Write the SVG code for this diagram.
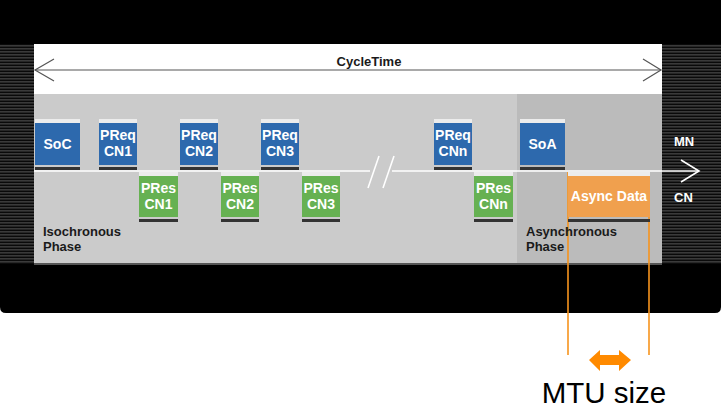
<svg xmlns="http://www.w3.org/2000/svg" width="721" height="412" viewBox="0 0 721 412">
  <style>
    .lbl{font-family:"Liberation Sans Narrow","Liberation Sans",Arial,sans-serif;font-weight:bold;font-size:14px;fill:#ffffff;text-anchor:middle}
    .dark{font-family:"Liberation Sans Narrow","Liberation Sans",Arial,sans-serif;font-weight:bold;font-size:13px;fill:#1a1a1a}
    .side{font-family:"Liberation Sans Narrow","Liberation Sans",Arial,sans-serif;font-weight:bold;font-size:13px;fill:#ffffff}
    .top{fill:#ececec}
    .bar{fill:#333333}
    .mn{fill:#2d69ad}
    .cn{fill:#66b152}
    .as{fill:#f0a04e}
    .wl{stroke:#ffffff;stroke-width:1.6;fill:none}
    .gl{stroke:#555555;stroke-width:1.2;fill:none}
    .ol{stroke:#f7941d;stroke-width:1.6;fill:none}
  </style>
  <defs>
    <pattern id="stripes" x="0" y="0" width="4" height="3" patternUnits="userSpaceOnUse">
      <rect width="4" height="3" fill="#0a0a0a"/>
      <rect width="4" height="1.6" fill="#3a3a3a"/>
    </pattern>
  </defs>

  <!-- background -->
  <rect width="721" height="412" fill="#ffffff"/>
  <path d="M0 0 H721 V307 Q721 313 715 313 H6 Q0 313 0 307 Z" fill="#000000"/>
  <rect x="0" y="44" width="34" height="220" fill="url(#stripes)"/>
  <rect x="662" y="44" width="59" height="220" fill="url(#stripes)"/>
  <rect x="34" y="44" width="628" height="50" fill="#ffffff"/>
  <rect x="34" y="94" width="483" height="170" fill="#cbcbcb"/>
  <rect x="517" y="94" width="145" height="170" fill="#bbbbbb"/>
  <rect x="34" y="263" width="628" height="2" fill="#555555"/>

  <!-- connectors -->
  <g id="connectors">
    <line class="gl" x1="35" y1="70" x2="661" y2="70"/>
    <polyline class="gl" points="54,59 35,70 54,81"/>
    <polyline class="gl" points="643,59 661,70 643,81"/>
    <line class="wl" x1="34" y1="171" x2="370" y2="171"/>
    <line class="wl" x1="392" y1="171" x2="699" y2="171"/>
    <polyline class="wl" points="681,160 699,171 681,182"/>
    <line class="wl" x1="368" y1="188" x2="379" y2="156"/>
    <line class="wl" x1="383" y1="188" x2="394" y2="156"/>
    <line class="ol" x1="568" y1="172" x2="568" y2="355"/>
    <line class="ol" x1="649" y1="172" x2="649" y2="355"/>
    <polygon fill="#ff8a00" points="589,360 600,350 600,355 619,355 619,350 631,360 619,371 619,365 600,365 600,371"/>
  </g>

  <g id="cycletime"><text class="dark" x="369" y="66" text-anchor="middle">CycleTime</text></g>

  <!-- MN frames -->
  <g id="soc"><rect class="top" x="35" y="119" width="45" height="4"/><rect class="mn" x="35" y="123" width="45" height="42"/><rect class="bar" x="35" y="167" width="45" height="3"/><text class="lbl" x="57.5" y="149">SoC</text></g>
  <g id="preq1"><rect class="top" x="99" y="119" width="38" height="4"/><rect class="mn" x="99" y="123" width="38" height="42"/><rect class="bar" x="99" y="167" width="38" height="3"/><text class="lbl" x="118" y="140">PReq</text><text class="lbl" x="118" y="156">CN1</text></g>
  <g id="preq2"><rect class="top" x="180" y="119" width="38" height="4"/><rect class="mn" x="180" y="123" width="38" height="42"/><rect class="bar" x="180" y="167" width="38" height="3"/><text class="lbl" x="199" y="140">PReq</text><text class="lbl" x="199" y="156">CN2</text></g>
  <g id="preq3"><rect class="top" x="261" y="119" width="38" height="4"/><rect class="mn" x="261" y="123" width="38" height="42"/><rect class="bar" x="261" y="167" width="38" height="3"/><text class="lbl" x="280" y="140">PReq</text><text class="lbl" x="280" y="156">CN3</text></g>
  <g id="preqn"><rect class="top" x="434" y="119" width="38" height="4"/><rect class="mn" x="434" y="123" width="38" height="42"/><rect class="bar" x="434" y="167" width="38" height="3"/><text class="lbl" x="453" y="140">PReq</text><text class="lbl" x="453" y="156">CNn</text></g>
  <g id="soa"><rect class="top" x="520" y="119" width="45" height="4"/><rect class="mn" x="520" y="123" width="45" height="42"/><rect class="bar" x="520" y="167" width="45" height="3"/><text class="lbl" x="542.5" y="149">SoA</text></g>

  <!-- CN frames -->
  <g id="pres1"><rect class="top" x="139" y="172" width="39" height="4"/><rect class="cn" x="139" y="176" width="39" height="41"/><rect class="bar" x="139" y="219" width="39" height="3"/><text class="lbl" x="158.5" y="193">PRes</text><text class="lbl" x="158.5" y="209">CN1</text></g>
  <g id="pres2"><rect class="top" x="221" y="172" width="38" height="4"/><rect class="cn" x="221" y="176" width="38" height="41"/><rect class="bar" x="221" y="219" width="38" height="3"/><text class="lbl" x="240" y="193">PRes</text><text class="lbl" x="240" y="209">CN2</text></g>
  <g id="pres3"><rect class="top" x="302" y="172" width="38" height="4"/><rect class="cn" x="302" y="176" width="38" height="41"/><rect class="bar" x="302" y="219" width="38" height="3"/><text class="lbl" x="321" y="193">PRes</text><text class="lbl" x="321" y="209">CN3</text></g>
  <g id="presn"><rect class="top" x="474" y="172" width="39" height="4"/><rect class="cn" x="474" y="176" width="39" height="41"/><rect class="bar" x="474" y="219" width="39" height="3"/><text class="lbl" x="493.5" y="193">PRes</text><text class="lbl" x="493.5" y="209">CNn</text></g>
  <g id="async"><rect class="top" x="568" y="172" width="82" height="4"/><rect class="as" x="568" y="176" width="82" height="41"/><rect class="bar" x="568" y="219" width="82" height="3"/><text class="lbl" x="609" y="201">Async Data</text></g>

  <!-- phase labels -->
  <g id="iso"><text class="dark" x="43" y="236">Isochronous</text><text class="dark" x="43" y="251">Phase</text></g>
  <g id="asyn"><text class="dark" x="526" y="236">Asynchronous</text><text class="dark" x="526" y="251">Phase</text></g>
  <g id="mnlbl"><text class="side" x="674" y="146">MN</text></g>
  <g id="cnlbl"><text class="side" x="674" y="202">CN</text></g>

  <g id="mtu"><text x="604" y="403" text-anchor="middle" font-family="Liberation Sans, Arial, sans-serif" font-size="29.5" fill="#000000">MTU size</text></g>
</svg>
